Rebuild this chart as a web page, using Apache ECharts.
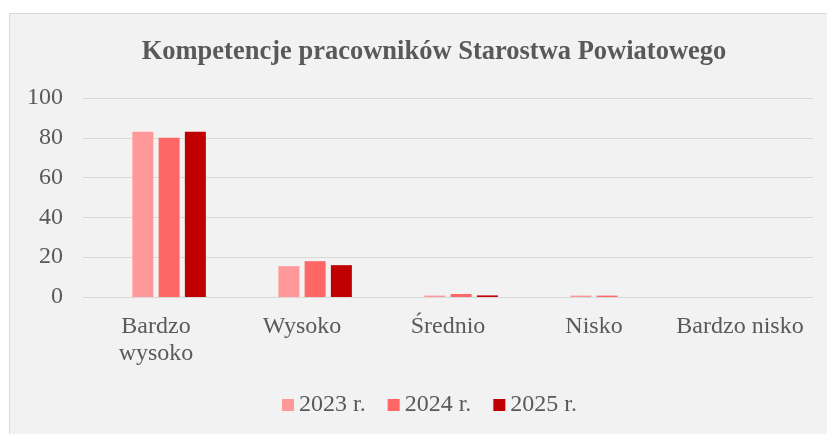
<!DOCTYPE html>
<html>
<head>
<meta charset="utf-8">
<script src="https://cdn.jsdelivr.net/npm/echarts@6/dist/echarts.min.js"></script>
<style>
  html, body { margin: 0; padding: 0; background: #ffffff; }
  #main { width: 827px; height: 434px; }
</style>
</head>
<body>
<div id="main"></div>
<script>
var categories = ['Bardzo\nwysoko', 'Wysoko', 'Średnio', 'Nisko', 'Bardzo nisko'];
var values2023 = [83, 15.5, 0.7, 0.7, 0];
var values2024 = [80, 18, 1.5, 0.7, 0];
var values2025 = [83, 16, 0.8, 0, 0];
// the source chart keeps an empty slot before the first series
var emptySlot = [null, null, null, null, null];
var yTicks = [0, 20, 40, 60, 80, 100];

var font = '"Liberation Serif", "Times New Roman", serif';
var textColor = '#595959';

var myChart = echarts.init(document.getElementById('main'));

function barSeries(name, data, color) {
  return {
    name: name,
    type: 'bar',
    data: data,
    barWidth: 21,
    barGap: '25%',
    itemStyle: { color: color },
    emphasis: { disabled: true }
  };
}

myChart.setOption({
  animation: false,
  backgroundColor: '#ffffff',
  graphic: [{
    type: 'rect',
    shape: { x: 9.5, y: 13.5, width: 830, height: 430 },
    style: { fill: '#f2f2f2', stroke: '#d9d9d9', lineWidth: 1 },
    z: -10
  }],
  title: {
    text: 'Kompetencje pracowników Starostwa Powiatowego',
    left: 429,
    textAlign: 'center',
    top: 34,
    textStyle: { fontFamily: font, fontSize: 26.5, fontWeight: 'bold', color: textColor }
  },
  legend: {
    data: ['2023 r.', '2024 r.', '2025 r.'],
    left: 277,
    top: 388,
    itemWidth: 12,
    itemHeight: 12,
    itemGap: 22,
    icon: 'rect',
    textStyle: { fontFamily: font, fontSize: 24, color: textColor }
  },
  grid: { left: 83, right: 14, top: 98, bottom: 137 },
  xAxis: {
    type: 'category',
    data: categories,
    axisLine: { show: false },
    axisTick: { show: false },
    axisLabel: {
      fontFamily: font, fontSize: 24, color: textColor,
      margin: 16, lineHeight: 27, interval: 0
    }
  },
  yAxis: {
    type: 'value',
    min: yTicks[0],
    max: yTicks[yTicks.length - 1],
    interval: 20,
    axisLine: { show: false },
    axisTick: { show: false },
    axisLabel: { fontFamily: font, fontSize: 24, color: textColor, margin: 20 },
    splitLine: { lineStyle: { color: '#d9d9d9', width: 1 } }
  },
  series: [
    barSeries('', emptySlot, 'transparent'),
    barSeries('2023 r.', values2023, '#ff9999'),
    barSeries('2024 r.', values2024, '#ff6666'),
    barSeries('2025 r.', values2025, '#c00000')
  ]
});
</script>
</body>
</html>
